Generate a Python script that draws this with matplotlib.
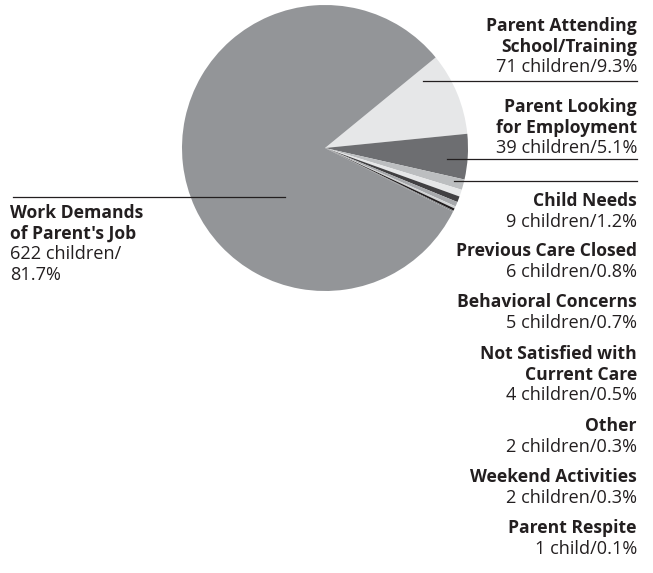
import matplotlib
matplotlib.use("Agg")
import matplotlib.pyplot as plt
from matplotlib.lines import Line2D

plt.rcParams['font.family'] = ['Open Sans', 'DejaVu Sans']

# reasons for needing care, counts of children
reasons = ["Parent Attending\nSchool/Training", "Parent Looking\nfor Employment",
           "Child Needs", "Previous Care Closed", "Behavioral Concerns",
           "Not Satisfied with\nCurrent Care", "Other", "Weekend Activities",
           "Parent Respite", "Work Demands\nof Parent's Job"]
counts = [71, 39, 9, 6, 5, 4, 2, 2, 1, 622]
count_text = ["71 children/9.3%", "39 children/5.1%", "9 children/1.2%",
              "6 children/0.8%", "5 children/0.7%", "4 children/0.5%",
              "2 children/0.3%", "2 children/0.3%", "1 child/0.1%",
              "622 children/\n81.7%"]
colors = ["#e6e7e8", "#6d6e71", "#bcbec0", "#e6e7e8", "#414042",
          "#a7a9ac", "#d1d3d4", "#231f20", "#808285", "#939598"]

W, H = 653, 573
fig = plt.figure(figsize=(W / 100, H / 100), dpi=100)

cx, cy, r = 325, 148, 143
ax = fig.add_axes([(cx - r) / W, 1 - (cy + r) / H, 2 * r / W, 2 * r / H])
ax.pie(counts, colors=colors, startangle=39.3, counterclock=False,
       wedgeprops=dict(linewidth=0))
ax.set_xlim(-1, 1)
ax.set_ylim(-1, 1)
ax.set_aspect("equal")
ax.axis("off")


def px(x, y):
    return x / W, 1 - y / H


fs_b = 12.6
fs_n = 13.1
step = 20.7
# first-line baseline for each right-hand label (pixels from top)
tops = [31, 112, 206, 256, 307, 359, 431, 482, 533]
for name, ctext, y0 in zip(reasons[:-1], count_text[:-1], tops):
    lines = name.split("\n")
    for i, ln in enumerate(lines):
        fig.text(*px(637, y0 + i * step), ln, ha="right", va="baseline",
                 fontsize=fs_b, fontweight="bold", color="#231f20")
    fig.text(*px(637, y0 + len(lines) * step), ctext, ha="right",
             va="baseline", fontsize=fs_n, color="#231f20")

# left label
y0 = 218
for i, ln in enumerate(reasons[-1].split("\n") + count_text[-1].split("\n")):
    fig.text(*px(10, y0 + i * step), ln, ha="left", va="baseline",
             fontsize=fs_b if i < 2 else fs_n,
             fontweight="bold" if i < 2 else "normal", color="#231f20")

# leader lines
for x0, x1, y in [(423, 637, 81), (447, 637, 159), (454, 637, 181), (13, 285, 197)]:
    fig.add_artist(Line2D([x0 / W, x1 / W], [1 - y / H, 1 - y / H],
                          color="#231f20", lw=0.9))

fig.savefig("out.png", dpi=100)
